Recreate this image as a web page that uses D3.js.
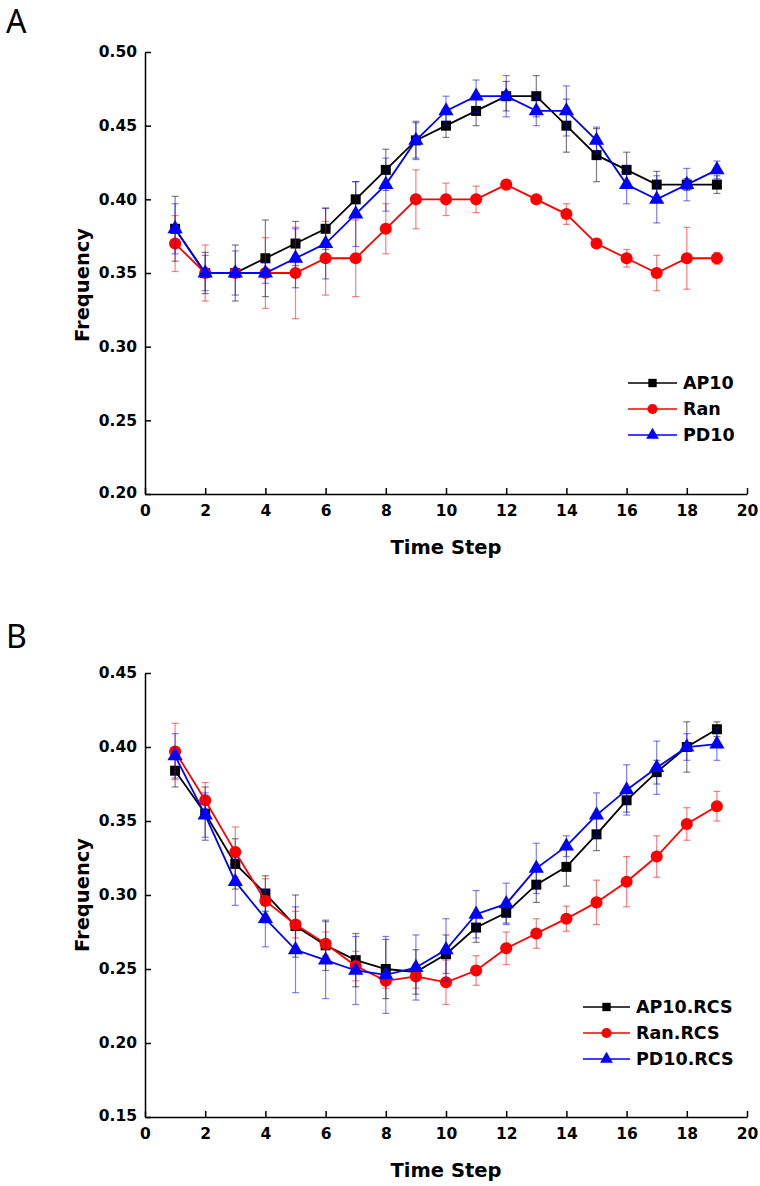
<!DOCTYPE html>
<html><head><meta charset="utf-8">
<script src="https://cdn.jsdelivr.net/npm/d3@7"></script>
<style>body{margin:0;background:#fff}svg{display:block}</style>
</head><body>
<svg id="chart" width="760" height="1186"></svg>
<script>
const timeSteps = d3.range(1, 20);
const xTicks = [0,2,4,6,8,10,12,14,16,18,20];
const yTicksA = [0.20,0.25,0.30,0.35,0.40,0.45,0.50];
const yTicksB = [0.15,0.20,0.25,0.30,0.35,0.40,0.45];

const ap10 = [0.38,0.35,0.35,0.36,0.37,0.38,0.40,0.42,0.44,0.45,0.46,0.47,0.47,0.45,0.43,0.42,0.41,0.41,0.41];
const ap10Err = [0.022,0.014,0.019,0.026,0.015,0.014,0.012,0.014,0.012,0.008,0.010,0.010,0.014,0.018,0.018,0.012,0.009,0.004,0.006];
const ran = [0.37,0.35,0.35,0.35,0.35,0.36,0.36,0.38,0.40,0.40,0.40,0.41,0.40,0.39,0.37,0.36,0.35,0.36,0.36];
const ranErr = [0.019,0.019,0.003,0.024,0.031,0.025,0.026,0.017,0.020,0.011,0.009,0.002,0.002,0.007,0.002,0.006,0.012,0.021,0.004];
const pd10 = [0.38,0.35,0.35,0.35,0.36,0.37,0.39,0.41,0.44,0.46,0.47,0.47,0.46,0.46,0.44,0.41,0.40,0.41,0.42];
const pd10Err = [0.017,0.012,0.015,0.007,0.020,0.024,0.022,0.018,0.013,0.010,0.011,0.014,0.010,0.017,0.009,0.013,0.016,0.011,0.006];

const ap10RCS = [0.384,0.355,0.321,0.301,0.279,0.266,0.256,0.250,0.248,0.260,0.278,0.288,0.307,0.319,0.341,0.364,0.383,0.400,0.412];
const ap10RCSErr = [0.011,0.018,0.017,0.012,0.021,0.017,0.018,0.020,0.015,0.013,0.010,0.007,0.012,0.013,0.011,0.008,0.008,0.017,0.005];
const ranRCS = [0.397,0.364,0.329,0.296,0.280,0.267,0.252,0.242,0.245,0.241,0.249,0.264,0.274,0.284,0.295,0.309,0.326,0.348,0.360];
const ranRCSErr = [0.019,0.012,0.017,0.015,0.009,0.008,0.010,0.005,0.008,0.015,0.010,0.011,0.010,0.0085,0.015,0.017,0.014,0.011,0.010];
const pd10RCS = [0.394,0.354,0.309,0.284,0.263,0.256,0.249,0.246,0.251,0.263,0.287,0.294,0.318,0.333,0.354,0.371,0.386,0.400,0.402];
const pd10RCSErr = [0.015,0.015,0.016,0.019,0.029,0.026,0.023,0.026,0.022,0.021,0.016,0.014,0.017,0.007,0.015,0.017,0.018,0.009,0.011];

const svg = d3.select('#chart');
const FONT = 'DejaVu Sans, sans-serif';

function panel(cfg) {
  const x = d3.scaleLinear().domain([0,20]).range([145,747]);
  const y = d3.scaleLinear().domain(cfg.yDomain).range([cfg.bottom, cfg.top]);
  const g = svg.append('g');

  const xa = g.append('g').attr('transform', `translate(0,${cfg.bottom})`)
    .call(d3.axisBottom(x).tickValues(xTicks).tickSizeInner(-6).tickSizeOuter(0).tickPadding(8).tickFormat(d3.format('d')));
  const ya = g.append('g').attr('transform', `translate(145,0)`)
    .call(d3.axisLeft(y).tickValues(cfg.yTicks).tickSizeInner(-6).tickSizeOuter(0).tickPadding(8).tickFormat(d3.format('.2f')));
  [xa, ya].forEach(a => {
    a.select('.domain').attr('stroke', '#000').attr('stroke-width', 1.5);
    a.selectAll('.tick line').attr('stroke', '#000').attr('stroke-width', 1.5);
    a.selectAll('text').attr('font-family', FONT).attr('font-weight', 'bold').attr('font-size', 15.5).attr('fill', '#000');
  });
  xa.selectAll('text').attr('dy', '0.9em');
  ya.select('.tick:first-of-type text').attr('dy', '0.2em');

  g.append('text').attr('x', 446).attr('y', cfg.bottom + 60)
    .attr('text-anchor', 'middle').attr('font-family', FONT).attr('font-weight', 'bold')
    .attr('font-size', 19.5).text('Time Step');
  g.append('text').attr('transform', `translate(89,${cfg.titleY}) rotate(-90)`)
    .attr('text-anchor', 'middle').attr('font-family', FONT).attr('font-weight', 'bold')
    .attr('font-size', 19.5).text('Frequency');
  g.append('text').attr('x', 6).attr('y', cfg.labelY).attr('font-family', 'Noto Sans, sans-serif')
    .attr('font-size', 32).text(cfg.label);

  const line = d3.line().x((d,i) => x(timeSteps[i])).y(d => y(d));

  cfg.series.forEach(s => {
    const sg = g.append('g');
    const eb = sg.append('g').attr('stroke', s.color).attr('stroke-opacity', 0.5).attr('stroke-width', 1.2);
    s.values.forEach((v, i) => {
      const e = s.err[i];
      const cx = x(timeSteps[i]);
      eb.append('line').attr('x1', cx).attr('x2', cx).attr('y1', y(v - e)).attr('y2', y(v + e));
      eb.append('line').attr('x1', cx - 3.5).attr('x2', cx + 3.5).attr('y1', y(v + e)).attr('y2', y(v + e));
      eb.append('line').attr('x1', cx - 3.5).attr('x2', cx + 3.5).attr('y1', y(v - e)).attr('y2', y(v - e));
    });
    sg.append('path').datum(s.values).attr('d', line).attr('fill', 'none')
      .attr('stroke', s.color).attr('stroke-width', 1.8);
    sg.selectAll('path.m').data(s.values).enter().append('path').attr('class', 'm')
      .attr('transform', (d,i) => `translate(${x(timeSteps[i])},${y(d)})`)
      .attr('d', d3.symbol().type(s.symbol).size(s.size))
      .attr('fill', s.color);
  });

  cfg.series.forEach((s, i) => {
    const ly = cfg.legend.y + i * cfg.legend.dy;
    g.append('line').attr('x1', cfg.legend.x1).attr('x2', cfg.legend.x2).attr('y1', ly).attr('y2', ly)
      .attr('stroke', s.color).attr('stroke-width', 1.6);
    g.append('path').attr('transform', `translate(${(cfg.legend.x1+cfg.legend.x2)/2},${ly})`)
      .attr('d', d3.symbol().type(s.symbol).size(s.size * 0.7)).attr('fill', s.color);
    g.append('text').attr('x', cfg.legend.x2 + 6).attr('y', ly).attr('dy', '0.36em')
      .attr('font-family', FONT).attr('font-weight', 'bold').attr('font-size', 17.5).text(s.name);
  });
}

panel({
  yDomain: [0.20, 0.50], top: 52, bottom: 494, yTicks: yTicksA, titleY: 285, label: 'A', labelY: 33,
  legend: {x1: 628, x2: 677, y: 383, dy: 26},
  series: [
    {name: 'AP10', values: ap10, err: ap10Err, color: '#000000', symbol: d3.symbolSquare, size: 100},
    {name: 'Ran', values: ran, err: ranErr, color: '#ff0000', symbol: d3.symbolCircle, size: 115},
    {name: 'PD10', values: pd10, err: pd10Err, color: '#0000ff', symbol: d3.symbolTriangle, size: 100}
  ]
});
panel({
  yDomain: [0.15, 0.45], top: 673, bottom: 1117, yTicks: yTicksB, titleY: 895, label: 'B', labelY: 648,
  legend: {x1: 583, x2: 630, y: 1007, dy: 26},
  series: [
    {name: 'AP10.RCS', values: ap10RCS, err: ap10RCSErr, color: '#000000', symbol: d3.symbolSquare, size: 100},
    {name: 'Ran.RCS', values: ranRCS, err: ranRCSErr, color: '#ff0000', symbol: d3.symbolCircle, size: 115},
    {name: 'PD10.RCS', values: pd10RCS, err: pd10RCSErr, color: '#0000ff', symbol: d3.symbolTriangle, size: 100}
  ]
});
</script>
</body></html>
